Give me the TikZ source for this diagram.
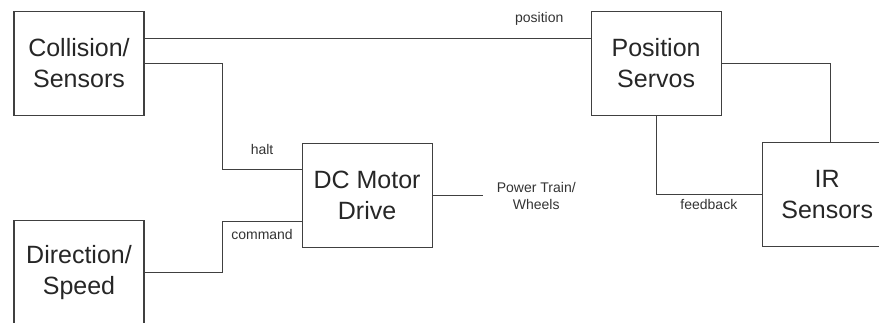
\documentclass[tikz,border=0pt]{standalone}
\usepackage{fontspec}
\setmainfont{Liberation Sans}
\usepackage{tikz}
\usetikzlibrary{positioning}

\begin{document}
\begin{tikzpicture}[
    x=1pt, y=1pt,
    block/.style={rectangle, draw=black!75, line width=1.1pt, minimum width=130pt, minimum height=104pt, align=center, text=black!85, font=\fontsize{25}{31}\selectfont},
    link/.style={draw=black!75, line width=1pt},
    tag/.style={text=black!80, align=center, font=\fontsize{14}{17}\selectfont}
]
    \clip (0,0) rectangle (879,322);

    \node[block] (collision) at (79,258.5) {Collision/\\Sensors};
    \node[block, right=446pt of collision] (servos) {Position\\Servos};
    \node[block, below=104pt of collision] (direction) {Direction/\\Speed};
    \node[block, below right=27pt and 157pt of collision] (motor) {DC Motor\\Drive};
    \node[block, below right=26pt and 40pt of servos] (ir) {IR\\Sensors};

    \node[tag, inner xsep=14pt, right=50pt of motor] (wheels) {Power Train/\\Wheels};

    \coordinate (haltin) at ([yshift=26.5pt]motor.west);
    \coordinate (cmdin) at ([yshift=-25.5pt]motor.west);

    \draw[link] ([yshift=25pt]collision.east) -- ([yshift=25pt]servos.west)
        node[tag, pos=0.885, yshift=20pt] (postag) {position};
    \draw[link] (collision.east) -| ([xshift=-79pt]haltin) -- (haltin)
        node[tag, pos=0.5, yshift=20pt] (halttag) {halt};
    \draw[link] (direction.east) -| ([xshift=-79pt]cmdin) -- (cmdin)
        node[tag, pos=0.5, yshift=-13pt] (cmdtag) {command};
    \draw[link] (motor) -- (wheels);
    \draw[link] (servos.east) -| ([xshift=3pt]ir.north);
    \draw[link] (servos.south) |- (ir.west)
        node[tag, pos=0.75, yshift=-10pt] (fbtag) {feedback};
\end{tikzpicture}
\end{document}
